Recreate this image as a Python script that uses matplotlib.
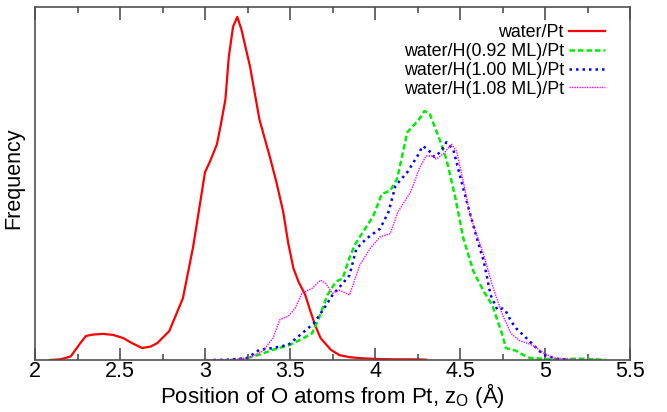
import numpy as np
import matplotlib
matplotlib.use('Agg')
import matplotlib.pyplot as plt

plt.rcParams['font.family'] = ['Liberation Sans', 'DejaVu Sans']

# datos (frecuencia normalizada, unidades arbitrarias)
x_pt = [2.09, 2.15, 2.21, 2.27, 2.30, 2.34, 2.40, 2.46, 2.52, 2.57, 2.63, 2.68, 2.72,
        2.79, 2.87, 2.93, 2.975, 3.0, 3.03, 3.07, 3.09, 3.12, 3.14, 3.165, 3.19,
        3.215, 3.265, 3.32, 3.38, 3.42, 3.46, 3.49, 3.52, 3.55, 3.59, 3.62, 3.65,
        3.68, 3.74, 3.79, 3.85, 3.92, 4.0, 4.1, 4.2, 4.3]
y_pt = [0.0, 0.002, 0.01, 0.05, 0.068, 0.072, 0.074, 0.071, 0.062, 0.048, 0.034, 0.038,
        0.048, 0.082, 0.175, 0.32, 0.456, 0.532, 0.563, 0.611, 0.659, 0.738, 0.859,
        0.944, 0.972, 0.935, 0.831, 0.682, 0.578, 0.504, 0.420, 0.33, 0.26, 0.222,
        0.184, 0.138, 0.096, 0.062, 0.029, 0.014, 0.008, 0.005, 0.003, 0.002, 0.002, 0.001]

x_092 = [3.15, 3.22, 3.32, 3.40, 3.50, 3.58, 3.63, 3.67, 3.72, 3.77, 3.81, 3.85, 3.88,
         3.93, 3.99, 4.04, 4.09, 4.13, 4.16, 4.19, 4.26, 4.29, 4.32, 4.38, 4.42, 4.47,
         4.52, 4.58, 4.64, 4.69, 4.75, 4.77, 4.83, 4.87, 4.91, 5.0, 5.1, 5.2, 5.3, 5.36]
y_092 = [0.0, 0.002, 0.015, 0.029, 0.043, 0.062, 0.076, 0.118, 0.184, 0.222, 0.231,
         0.29, 0.325, 0.363, 0.408, 0.470, 0.480, 0.513, 0.578, 0.645, 0.682, 0.705,
         0.700, 0.625, 0.569, 0.466, 0.344, 0.250, 0.194, 0.155, 0.070, 0.034, 0.026,
         0.015, 0.006, 0.003, 0.002, 0.004, 0.002, 0.0]

x_100 = [3.05, 3.15, 3.25, 3.32, 3.40, 3.49, 3.56, 3.64, 3.70, 3.75, 3.81, 3.85, 3.89,
         3.95, 4.03, 4.08, 4.12, 4.19, 4.25, 4.28, 4.31, 4.35, 4.39, 4.42, 4.46, 4.50,
         4.54, 4.60, 4.64, 4.68, 4.72, 4.75, 4.77, 4.80, 4.83, 4.91, 4.99, 5.07, 5.15]
y_100 = [0.0, 0.001, 0.006, 0.029, 0.034, 0.043, 0.071, 0.104, 0.146, 0.184, 0.217,
         0.240, 0.315, 0.344, 0.372, 0.420, 0.493, 0.532, 0.578, 0.606, 0.597, 0.575,
         0.592, 0.617, 0.597, 0.522, 0.448, 0.344, 0.279, 0.184, 0.142, 0.146, 0.138,
         0.11, 0.09, 0.053, 0.015, 0.003, 0.0]

x_108 = [3.0, 3.15, 3.26, 3.34, 3.40, 3.44, 3.49, 3.53, 3.57, 3.63, 3.68, 3.71, 3.75,
         3.79, 3.85, 3.91, 3.97, 4.03, 4.09, 4.135, 4.21, 4.26, 4.30, 4.34, 4.36, 4.40,
         4.45, 4.48, 4.52, 4.56, 4.64, 4.69, 4.75, 4.80, 4.85, 4.91, 4.95, 4.99, 5.05,
         5.15, 5.3]
y_108 = [0.0, 0.001, 0.006, 0.025, 0.062, 0.114, 0.124, 0.146, 0.189, 0.203, 0.226,
         0.217, 0.189, 0.198, 0.184, 0.268, 0.315, 0.349, 0.358, 0.420, 0.476, 0.541,
         0.578, 0.578, 0.569, 0.583, 0.611, 0.592, 0.504, 0.409, 0.297, 0.212, 0.128,
         0.075, 0.055, 0.045, 0.035, 0.02, 0.006, 0.002, 0.0]

etiquetas = ['water/Pt', 'water/H(0.92 ML)/Pt', 'water/H(1.00 ML)/Pt', 'water/H(1.08 ML)/Pt']

fig = plt.figure(figsize=(6.67, 4.12), dpi=100)
ax = fig.add_axes([35/667, 52/412, 595/667, 353/412])

ax.plot(x_pt, y_pt, color='#ff0000', lw=1.6, label=etiquetas[0])
ax.plot(x_092, y_092, color='#00ee00', lw=1.8, ls=(0, (2.2, 1.2)), label=etiquetas[1])
ax.plot(x_100, y_100, color='#0000ff', lw=1.8, ls=(0, (1, 1.6)), label=etiquetas[2])
ax.plot(x_108, y_108, color='#ff00ff', lw=1.0, ls=(0, (1, 0.8)), label=etiquetas[3])

ax.set_xlim(2, 5.5)
ax.set_ylim(0, 1)
ax.set_xticks(np.arange(2, 5.51, 0.5))
ax.set_xticklabels(['2', '2.5', '3', '3.5', '4', '4.5', '5', '5.5'])
ax.set_xticks(np.arange(2.25, 5.5, 0.5), minor=True)
ax.set_yticks([])
ax.tick_params(axis='x', which='both', direction='in', top=True, colors='#505050',
               labelcolor='black', labelsize=15.5, pad=1)
ax.tick_params(axis='x', which='major', length=9, width=1.2)
ax.tick_params(axis='x', which='minor', length=4.5, width=1.2)
for s in ax.spines.values():
    s.set_color('#505050')
    s.set_linewidth(1.2)

ax.set_xlabel('Position of O atoms from Pt, z$\\mathregular{_O}$ (Å)', fontsize=16, labelpad=-1)
ax.set_ylabel('Frequency', fontsize=15.5)
ax.yaxis.set_label_coords(-0.018, 0.515)

ax.legend(loc='upper right', bbox_to_anchor=(0.958, 0.951), frameon=False,
          markerfirst=False, fontsize=12.9, handlelength=2.0, handletextpad=0.3,
          labelspacing=0.1, borderpad=0, borderaxespad=0)

fig.savefig('out.png', dpi=100)
